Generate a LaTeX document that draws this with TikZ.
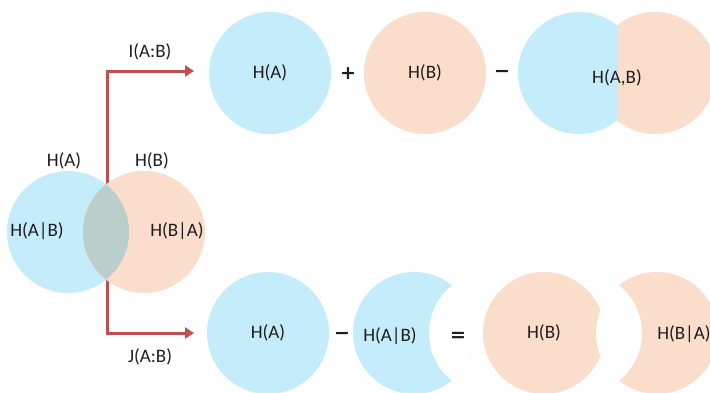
\documentclass[tikz,border=0pt]{standalone}
\usepackage{fontspec}
\setmainfont{Carlito}
\newfontfamily\opfont{DejaVu Sans}[BoldFont={DejaVu Sans Bold}]
\usetikzlibrary{arrows.meta}

\definecolor{setA}{RGB}{197,236,250}
\definecolor{setB}{RGB}{250,221,203}
\definecolor{lens}{RGB}{186,206,204}
\definecolor{flowred}{RGB}{192,80,77}
\definecolor{ink}{RGB}{30,30,30}

\begin{document}
\begin{tikzpicture}[x=1pt, y=-1pt, >={Triangle[length=9pt,width=11pt]},
    every node/.style={text=ink, font=\fontsize{19}{22}\selectfont},
    disk/.style={circle, minimum size=122pt, inner sep=0pt},
    diskA/.style={disk, fill=setA},
    diskB/.style={disk, fill=setB},
    op/.style={font=\opfont\bfseries\fontsize{19}{21}\selectfont},
    flow/.style={->, flowred, line width=3pt}]
  \useasboundingbox (0,0) rectangle (710,392);

  % arrows leave from inside the overlap
  \coordinate (iStart) at (107,203);
  \coordinate (iEnd) at (194,71);
  \coordinate (jStart) at (107,263);
  \coordinate (jEnd) at (194,333);
  \draw[flow] (iStart) |- (iEnd);
  \draw[flow] (jStart) |- (jEnd);
  \node (iLabel) at (150,52) {I(A:B)};
  \node (jLabel) at (150,357) {J(A:B)};

  % Venn diagram of A and B
  \fill[setA] (68,232) circle (61);
  \fill[setB] (144,232) circle (61);
  \begin{scope}
    \clip (68,232) circle (61);
    \fill[lens] (144,232) circle (61);
  \end{scope}
  \node (vA) at (64,161) {H(A)};
  \node (vB) at (152,161) {H(B)};
  \node (vAgB) at (37,231) {H(A|B)};
  \node (vBgA) at (177,231) {H(B|A)};

  % I(A:B) = H(A) + H(B) - H(A,B)
  \node[diskA] (iA) at (270,73) {H(A)};
  \node[op] (plus) at (348,74) {+};
  \node[diskB] (iB) at (425,73) {H(B)};
  \node[op] (minusI) at (502,74) {−};
  \fill[setB] (655,73) circle (61);
  \begin{scope}
    \clip (500,0) rectangle (617,150);
    \fill[setA] (579,73) circle (61);
  \end{scope}
  \node (iAB) at (617,78) {H(A,B)};

  % J(A:B) = H(A) - H(A|B) = H(B) - H(B|A)
  \node[diskA] (jA) at (268,333) {H(A)};
  \node[op] (minusJa) at (342,336) {−};
  \begin{scope}
    \clip (414,333) circle (61);
    \fill[setA] (414,333) circle (61);
    \fill[white] (490,333) circle (61);
  \end{scope}
  \node (jAgB) at (390,336) {H(A|B)};
  \node[op] (equals) at (458,337) {=};
  \node[diskB] (jB) at (544,333) {H(B)};
  \node[op] (minusJb) at (622,337) {−};
  \begin{scope}
    \clip (657,333) circle (61);
    \fill[setB] (657,333) circle (61);
    \fill[white] (581,333) circle (61);
  \end{scope}
  \node (jBgA) at (684,334) {H(B|A)};
\end{tikzpicture}
\end{document}
